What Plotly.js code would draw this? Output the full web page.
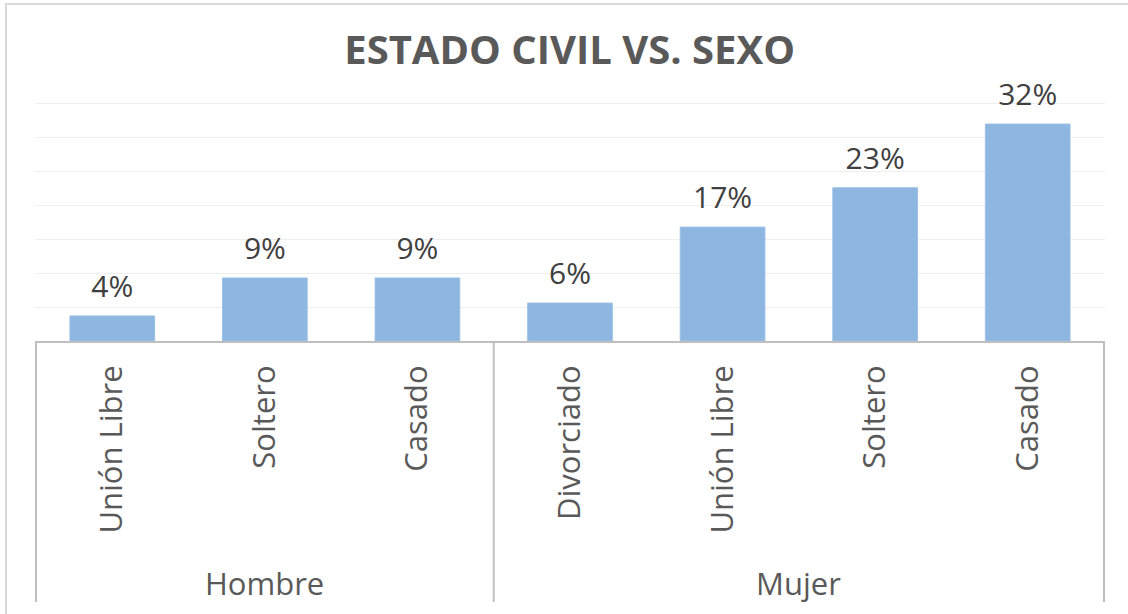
<!DOCTYPE html>
<html>
<head>
<meta charset="utf-8">
<script src="https://cdn.plot.ly/plotly-3.0.1.min.js"></script>
<style>
  html, body { margin: 0; padding: 0; background: #ffffff; }
  #wrap { position: relative; width: 1128px; height: 614px; overflow: hidden; }
  #chart { width: 1128px; height: 614px; }
  #frame { position: absolute; left: 5px; top: 3px; width: 1200px; height: 700px;
           border-left: 2px solid #d9d9d9; border-top: 2px solid #d9d9d9; pointer-events: none; }
</style>
</head>
<body>
<div id="wrap">
  <div id="chart"></div>
  <div id="frame"></div>
</div>
<script>
// ---- data ----
var sexo = ['Hombre', 'Hombre', 'Hombre', 'Mujer', 'Mujer', 'Mujer', 'Mujer'];
var estadoCivil = ['Unión Libre', 'Soltero', 'Casado', 'Divorciado', 'Unión Libre', 'Soltero', 'Casado'];
var porcentajes = [3.7, 9.3, 9.3, 5.6, 16.8, 22.6, 32.0];
var etiquetas = ['4%', '9%', '9%', '6%', '17%', '23%', '32%'];

var FONT = '"Open Sans", "DejaVu Sans", sans-serif';
var GRIS_EJE = '#bfbfbf';

// unique category ids (group + category), shown with the category name only
var ids = sexo.map(function (s, i) { return s + ' · ' + estadoCivil[i]; });

// group boundaries / centres derived from the data
var limites = [-0.5];
var grupos = [];
var inicio = 0;
for (var i = 1; i <= sexo.length; i++) {
  if (i === sexo.length || sexo[i] !== sexo[i - 1]) {
    limites.push(i - 0.5);
    grupos.push({ nombre: sexo[inicio], centro: (inicio + i - 1) / 2 });
    inicio = i;
  }
}

var MARGEN_T = 101, MARGEN_B = 273;
var PLOT_H = 614 - MARGEN_T - MARGEN_B;
var yFondo = -(602 - 341) / PLOT_H;
var yGrupo = -(583 - 341) / PLOT_H;

var shapes = limites.map(function (xb) {
  return {
    type: 'line', xref: 'x', yref: 'paper',
    x0: xb, x1: xb, y0: 0, y1: yFondo,
    line: { color: GRIS_EJE, width: 2 }
  };
});

var annotations = grupos.map(function (g) {
  return {
    xref: 'x', yref: 'paper', x: g.centro, y: yGrupo,
    xanchor: 'center', yanchor: 'middle',
    text: g.nombre, showarrow: false,
    font: { family: FONT, size: 31, color: '#595959' }
  };
});

var barras = {
  type: 'bar',
  x: ids,
  y: porcentajes,
  width: 0.555,
  marker: { color: '#8db6e1', line: { color: '#9cc0e6', width: 1 } },
  hoverinfo: 'skip',
  showlegend: false
};

var textos = {
  type: 'scatter',
  mode: 'markers+text',
  x: ids,
  y: porcentajes,
  text: etiquetas,
  textposition: 'top center',
  textfont: { family: FONT, size: 30, color: '#404040' },
  marker: { size: 17, color: 'rgba(0,0,0,0)' },
  hoverinfo: 'skip',
  showlegend: false,
  cliponaxis: false
};

var layout = {
  width: 1128,
  height: 614,
  margin: { l: 35, r: 23, t: MARGEN_T, b: MARGEN_B },
  paper_bgcolor: '#ffffff',
  plot_bgcolor: '#ffffff',
  font: { family: FONT, color: '#595959' },
  title: {
    text: '<b>ESTADO CIVIL VS. SEXO</b>',
    font: { family: FONT, size: 40, color: '#595959' },
    x: 0.505, xanchor: 'center',
    y: 1 - 50 / 614, yanchor: 'middle', yref: 'container'
  },
  xaxis: {
    type: 'category',
    categoryorder: 'array',
    categoryarray: ids,
    tickmode: 'array',
    tickvals: ids,
    ticktext: estadoCivil,
    tickangle: -90,
    tickfont: { family: FONT, size: 31, color: '#595959' },
    ticklabelstandoff: 10,
    showline: true,
    linecolor: GRIS_EJE,
    linewidth: 2,
    ticks: '',
    showgrid: false,
    zeroline: false
  },
  yaxis: {
    range: [0, 35.4],
    dtick: 5,
    tick0: 0,
    showticklabels: false,
    gridcolor: '#efefef',
    gridwidth: 1,
    zeroline: false,
    showline: false,
    ticks: ''
  },
  shapes: shapes,
  annotations: annotations,
  bargap: 0.445
};

Plotly.newPlot('chart', [barras, textos], layout, { displayModeBar: false, staticPlot: true });
</script>
</body>
</html>
